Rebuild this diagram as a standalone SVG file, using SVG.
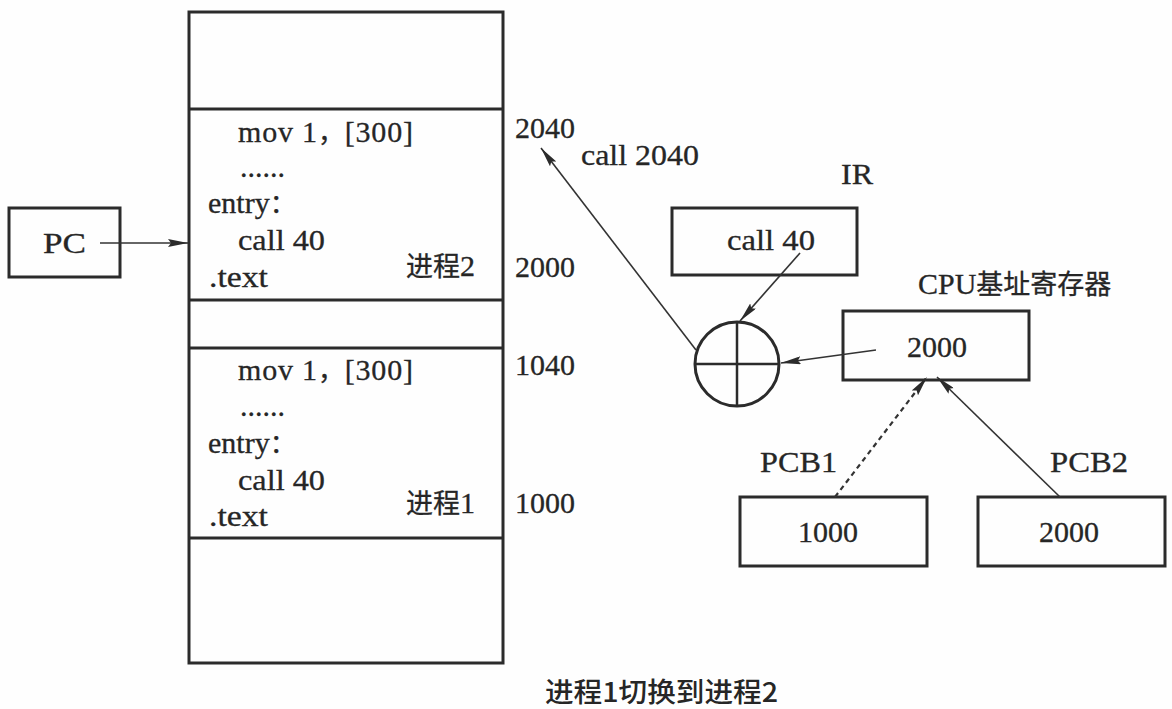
<svg xmlns="http://www.w3.org/2000/svg" width="1172" height="709" viewBox="0 0 1172 709">
<style>
.t{font-family:"Liberation Serif","DejaVu Serif",serif;font-size:30px;fill:#262626;stroke:#262626;stroke-width:0.3}
.k{font-family:"Noto Sans CJK SC","Noto Sans CJK TC",sans-serif;font-weight:400}
.c{font-family:"Noto Sans CJK SC",sans-serif;font-size:27px;font-weight:500;fill:#262626}
.box{fill:none;stroke:#2b2b2b;stroke-width:3}
.conn{fill:none;stroke:#333;stroke-width:1.6}
.dash{stroke-dasharray:5 4;stroke-width:2.2}
</style>
<defs>
<marker id="ah" markerUnits="userSpaceOnUse" viewBox="0 0 20 8" markerWidth="20" markerHeight="8" refX="20" refY="4" orient="auto">
<path d="M0,0 L20,4 L0,8 L3,4 z" fill="#2b2b2b"/>
</marker>
</defs>
<rect x="0" y="0" width="1172" height="709" fill="#fefefe"/>

<g id="memory">
<rect class="box" x="189" y="12" width="314" height="651"/>
<line class="box" x1="189" y1="109" x2="503" y2="109"/>
<line class="box" x1="189" y1="300" x2="503" y2="300"/>
<line class="box" x1="189" y1="348" x2="503" y2="348"/>
<line class="box" x1="189" y1="538" x2="503" y2="538"/>
</g>

<g id="process2">
<text class="t" x="238" y="142" textLength="175" lengthAdjust="spacing">mov 1<tspan class="k" font-size="26">，</tspan>[300]</text>
<text class="t" x="240" y="177">......</text>
<text class="t" x="208" y="213">entry<tspan class="k" font-size="26">：</tspan></text>
<text class="t" x="238" y="250" textLength="87" lengthAdjust="spacingAndGlyphs">call 40</text>
<text class="t" x="209" y="287" textLength="59" lengthAdjust="spacingAndGlyphs">.text</text>
<text class="t" x="406" y="276"><tspan class="k" font-size="27">进程</tspan>2</text>
</g>

<g id="process1">
<text class="t" x="238" y="380" textLength="175" lengthAdjust="spacing">mov 1<tspan class="k" font-size="26">，</tspan>[300]</text>
<text class="t" x="240" y="416">......</text>
<text class="t" x="208" y="453">entry<tspan class="k" font-size="26">：</tspan></text>
<text class="t" x="238" y="490" textLength="87" lengthAdjust="spacingAndGlyphs">call 40</text>
<text class="t" x="209" y="526" textLength="59" lengthAdjust="spacingAndGlyphs">.text</text>
<text class="t" x="406" y="513"><tspan class="k" font-size="27">进程</tspan>1</text>
</g>

<g id="addresses">
<text class="t" x="515" y="138">2040</text>
<text class="t" x="515" y="277">2000</text>
<text class="t" x="515" y="375">1040</text>
<text class="t" x="515" y="513">1000</text>
</g>

<g id="pc">
<rect class="box" x="9" y="208" width="111" height="69"/>
<text class="t" x="43" y="253" textLength="43" lengthAdjust="spacingAndGlyphs">PC</text>
</g>

<g id="ir">
<text class="t" x="841" y="184" textLength="32" lengthAdjust="spacingAndGlyphs">IR</text>
<rect class="box" x="672" y="208" width="185" height="67"/>
<text class="t" x="727" y="250" textLength="88" lengthAdjust="spacingAndGlyphs">call 40</text>
</g>

<g id="adder">
<circle cx="737" cy="364" r="42" fill="none" stroke="#2b2b2b" stroke-width="3"/>
<line x1="695" y1="364" x2="779" y2="364" stroke="#2b2b2b" stroke-width="2.5"/>
<line x1="737" y1="322" x2="737" y2="406" stroke="#2b2b2b" stroke-width="2.5"/>
</g>

<g id="cpu-base">
<text class="t" x="918" y="294">CPU<tspan class="k" font-size="27">基址寄存器</tspan></text>
<rect class="box" x="843" y="311" width="186" height="69"/>
<text class="t" x="907" y="357">2000</text>
</g>

<g id="pcb1">
<text class="t" x="760" y="472" textLength="77" lengthAdjust="spacingAndGlyphs">PCB1</text>
<rect class="box" x="740" y="497" width="187" height="69"/>
<text class="t" x="798" y="542">1000</text>
</g>

<g id="pcb2">
<text class="t" x="1050" y="472" textLength="78" lengthAdjust="spacingAndGlyphs">PCB2</text>
<rect class="box" x="978" y="497" width="187" height="69"/>
<text class="t" x="1039" y="542">2000</text>
</g>

<g id="labels">
<text class="t" x="581" y="165" textLength="118" lengthAdjust="spacingAndGlyphs">call 2040</text>
<text class="c" x="545" y="702" textLength="233" lengthAdjust="spacingAndGlyphs">进程1切换到进程2</text>
</g>

<g id="connectors">
<line class="conn" x1="100" y1="243" x2="188" y2="243" marker-end="url(#ah)"/>
<line class="conn" x1="696" y1="350" x2="541" y2="148" marker-end="url(#ah)"/>
<line class="conn" x1="800" y1="253" x2="740" y2="321" marker-end="url(#ah)"/>
<line class="conn" x1="876" y1="350" x2="781" y2="363" marker-end="url(#ah)"/>
<line class="conn dash" x1="835" y1="497" x2="927" y2="377" marker-end="url(#ah)"/>
<line class="conn" x1="1060" y1="497" x2="937" y2="377" marker-end="url(#ah)"/>
</g>
</svg>
